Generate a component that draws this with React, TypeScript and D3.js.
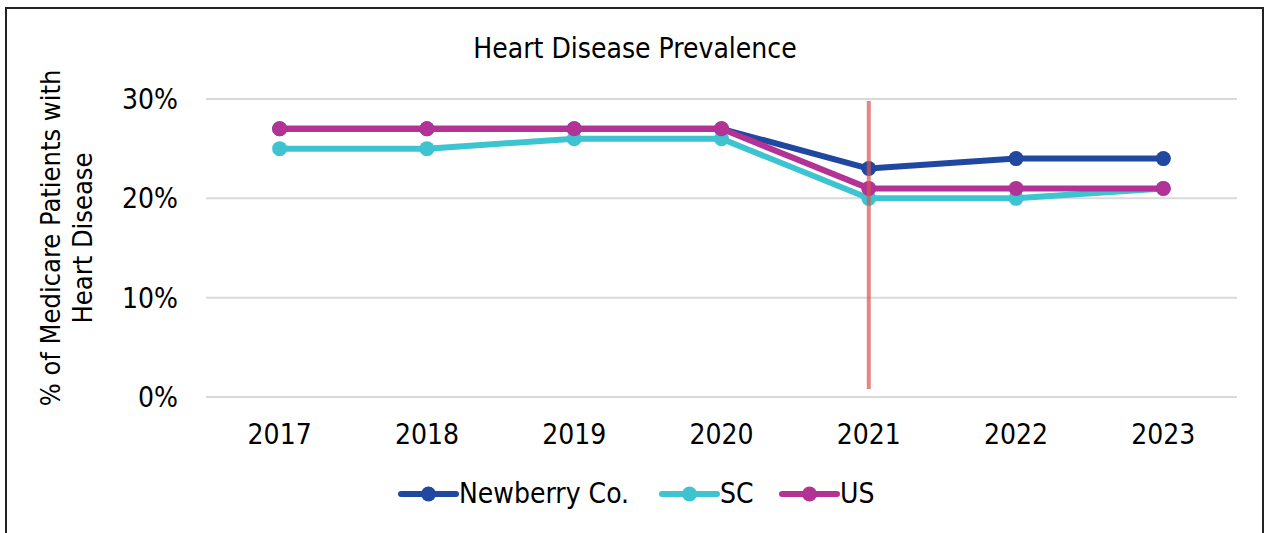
import React from "react";
import * as d3 from "d3";

const years = ["2017", "2018", "2019", "2020", "2021", "2022", "2023"];
const newberry = [27, 27, 27, 27, 23, 24, 24];
const sc = [25, 25, 26, 26, 20, 20, 21];
const us = [27, 27, 27, 27, 21, 21, 21];
const yTicks = [0, 10, 20, 30];
const seriesNames = ["Newberry Co.", "SC", "US"];
const seriesColors = ["#2148A0", "#3EC3D1", "#B23296"];
const markerYear = "2021";

const W = 1269;
const H = 533;
const FONT = "'DejaVu Sans Condensed', 'DejaVu Sans', sans-serif";
const FS = 28;

export default function App() {
  const x = d3.scaleBand().domain(years).range([206, 1237]);
  const y = d3.scaleLinear().domain([0, 30]).range([397, 99]);
  const cx = (d: string) => (x(d) as number) + x.bandwidth() / 2;
  const line = d3
    .line<number>()
    .x((_, i) => cx(years[i]))
    .y((v) => y(v));
  const all = [newberry, sc, us];
  const drawOrder = [0, 1, 2];
  const legendX = [401, 662, 782];
  return (
    <svg
      width={W}
      height={H}
      style={{ position: "absolute", left: 0, top: 0, background: "#fff" }}
    >
      <rect x={6} y={8} width={1257} height={540} fill="#fff" stroke="#222" strokeWidth={2} />
      <text x={635} y={58} textAnchor="middle" fontFamily={FONT} fontSize={FS} fill="#000">
        Heart Disease Prevalence
      </text>
      {yTicks.map((t) => (
        <g key={t}>
          <line x1={206} x2={1237} y1={y(t)} y2={y(t)} stroke="#d9d9d9" strokeWidth={2} />
          <text x={178} y={y(t) + 10} textAnchor="end" fontFamily={FONT} fontSize={FS} fill="#000">
            {t}%
          </text>
        </g>
      ))}
      {years.map((yr) => (
        <text key={yr} x={cx(yr)} y={444} textAnchor="middle" fontFamily={FONT} fontSize={FS} fill="#000">
          {yr}
        </text>
      ))}
      <g transform="translate(0,238) rotate(-90)">
        <text x={0} y={60} textAnchor="middle" fontFamily={FONT} fontSize={27} fill="#000">
          % of Medicare Patients with
        </text>
        <text x={0} y={92} textAnchor="middle" fontFamily={FONT} fontSize={27} fill="#000">
          Heart Disease
        </text>
      </g>
      {drawOrder.map((s) => (
        <g key={s}>
          <path d={line(all[s]) || ""} fill="none" stroke={seriesColors[s]} strokeWidth={6} strokeLinejoin="round" />
          {all[s].map((v, i) => (
            <circle key={i} cx={cx(years[i])} cy={y(v)} r={7.5} fill={seriesColors[s]} />
          ))}
        </g>
      ))}
      <line
        x1={cx(markerYear)}
        x2={cx(markerYear)}
        y1={101}
        y2={389}
        stroke="#D9534F"
        strokeOpacity={0.7}
        strokeWidth={4}
      />
      {seriesNames.map((n, s) => (
        <g key={n}>
          <line x1={legendX[s]} x2={legendX[s] + 55} y1={494} y2={494} stroke={seriesColors[s]} strokeWidth={6} strokeLinecap="round" />
          <circle cx={legendX[s] + 27.5} cy={494} r={7.5} fill={seriesColors[s]} />
          <text x={legendX[s] + 58} y={503} fontFamily={FONT} fontSize={FS} fill="#000">
            {n}
          </text>
        </g>
      ))}
    </svg>
  );
}
